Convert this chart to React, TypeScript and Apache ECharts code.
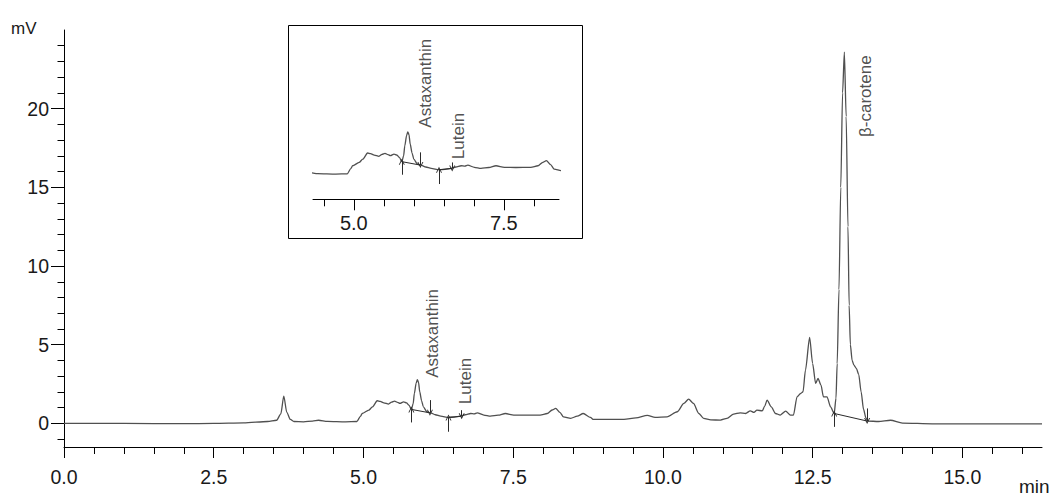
import React, { useEffect, useRef } from 'react';
import * as echarts from 'echarts';

// Retention time (min) and detector signal (mV)
const TIME = [
  0.0, 1.0, 2.0, 2.5, 3.0, 3.4, 3.55, 3.62, 3.67, 3.72, 3.78, 3.84, 4.0, 4.15, 4.25, 4.4, 4.7, 4.89,
  4.95, 4.98, 5.09, 5.15, 5.23, 5.28, 5.34, 5.42, 5.47, 5.52, 5.57, 5.61, 5.67, 5.72, 5.76, 5.8,
  5.83, 5.85, 5.88, 5.9, 5.92, 5.94, 5.97, 6.0, 6.06, 6.12, 6.2, 6.29, 6.42, 6.52, 6.62, 6.7, 6.79,
  6.85, 6.9, 7.01, 7.12, 7.25, 7.37, 7.51, 7.7, 7.95, 8.07, 8.15, 8.21, 8.28, 8.34, 8.46, 8.57, 8.67,
  8.79, 8.84, 9.1, 9.35, 9.55, 9.74, 9.87, 10.07, 10.24, 10.35, 10.43, 10.51, 10.6, 10.68, 10.8,
  10.96, 11.07, 11.18, 11.29, 11.38, 11.46, 11.52, 11.57, 11.66, 11.7, 11.74, 11.81, 11.88, 11.96,
  12.05, 12.13, 12.18, 12.24, 12.3, 12.34, 12.38, 12.45, 12.5, 12.55, 12.59, 12.64, 12.68, 12.74,
  12.8, 12.86, 12.89, 12.91, 12.94, 12.97, 13.0, 13.03, 13.06, 13.09, 13.11, 13.13, 13.16, 13.19,
  13.23, 13.27, 13.31, 13.35, 13.39, 13.42, 13.6, 13.8, 14.0, 14.5, 15.0, 16.33,
];
const SIGNAL = [
  0.0, 0.0, -0.02, 0.0, 0.03, 0.12, 0.2, 0.6, 1.73, 0.7, 0.25, 0.12, 0.1, 0.15, 0.2, 0.13, 0.1, 0.12,
  0.45, 0.63, 0.84, 1.05, 1.44, 1.4, 1.31, 1.23, 1.35, 1.42, 1.33, 1.27, 1.37, 1.3, 1.16, 0.89,
  1.25, 1.9, 2.55, 2.78, 2.6, 2.01, 1.45, 1.05, 0.74, 0.67, 0.55, 0.46, 0.38, 0.4, 0.46, 0.55, 0.63,
  0.6, 0.67, 0.53, 0.46, 0.52, 0.63, 0.53, 0.52, 0.53, 0.63, 0.85, 0.95, 0.7, 0.42, 0.32, 0.46, 0.63,
  0.38, 0.25, 0.25, 0.25, 0.35, 0.51, 0.38, 0.42, 0.74, 1.27, 1.54, 1.27, 0.63, 0.32, 0.22,
  0.21, 0.32, 0.59, 0.67, 0.63, 0.8, 0.7, 0.84, 0.8, 1.1, 1.48, 1.05, 0.63, 0.53,
  0.78, 0.53, 0.53, 1.69, 1.9, 2.01, 3.38, 5.46, 3.81, 2.54, 2.86, 2.43, 1.69, 1.69,
  1.05, 0.63, 1.6, 3.8, 8.5, 15.0, 21.0, 23.6, 19.5, 12.5, 7.5, 5.0, 4.0, 3.7,
  3.5, 3.1, 2.0, 0.9, 0.35, 0.15, 0.12, 0.2, 0.02, -0.03, -0.03, -0.03,
];

// Axis ticks
const X_MAJOR = [0, 2.5, 5, 7.5, 10, 12.5, 15];
const X_MINOR = [0.5, 1, 1.5, 2, 3, 3.5, 4, 4.5, 5.5, 6, 6.5, 7, 8, 8.5, 9, 9.5, 10.5, 11, 11.5, 12, 13, 13.5, 14, 14.5, 15.5, 16];
const Y_MAJOR = [0, 5, 10, 15, 20];
const Y_MINOR = [-1, 1, 2, 3, 4, 6, 7, 8, 9, 11, 12, 13, 14, 16, 17, 18, 19, 21, 22, 23, 24];
const INSET_X_MAJOR = [5, 7.5];
const INSET_X_MINOR = [4.5, 5.5, 6, 6.5, 7, 8];

// Integrated peaks: names, start / end points and marker tails
const PEAK_NAMES = ['Astaxanthin', 'Lutein', 'β-carotene'];
const PEAK_START_X = [5.8, 6.42, 12.86];
const PEAK_START_Y = [0.89, 0.38, 0.63];
const PEAK_END_X = [6.11, 6.64, 13.41];
const PEAK_END_Y = [0.67, 0.46, 0.15];
const START_TAIL_Y = [0.06, -0.53, -0.22];
const END_TAIL_Y = [1.48, 0.84, 0.95];
const LABEL_X = [6.15, 6.7, 13.38];
const LABEL_Y = [2.9, 1.22, 18.2];
const INSET_LABEL_X = [6.2, 6.75];
const INSET_LABEL_Y = [3.05, 1.05];

const FONT = '"Liberation Sans", Arial, sans-serif';
const ARROW = 'path://M0,10 L5,0 L10,10 L8.4,10 L5,3.2 L1.6,10 Z';

function markerLines(indices: number[]) {
  const data: any[] = [];
  indices.forEach((i) => {
    data.push([
      { coord: [PEAK_START_X[i], PEAK_START_Y[i]], symbol: 'none' },
      { coord: [PEAK_END_X[i], PEAK_END_Y[i]], symbol: 'none' },
    ]);
    data.push([
      { coord: [PEAK_START_X[i], START_TAIL_Y[i]], symbol: 'none' },
      { coord: [PEAK_START_X[i], PEAK_START_Y[i]], symbol: ARROW, symbolSize: [6, 6] },
    ]);
    data.push([
      { coord: [PEAK_END_X[i], END_TAIL_Y[i]], symbol: 'none' },
      { coord: [PEAK_END_X[i], PEAK_END_Y[i]], symbol: ARROW, symbolSize: [6, 6] },
    ]);
  });
  return data;
}

function xAxisPair(gridIndex: number, min: number, max: number, major: number[], minor: number[], fontSize: number, margin: number) {
  return [
    {
      type: 'value', gridIndex, min, max, position: 'bottom',
      axisLine: { show: true, onZero: false, lineStyle: { color: '#000', width: 1 } },
      axisTick: { show: true, length: 11, customValues: major, lineStyle: { color: '#000', width: 1 } },
      axisLabel: {
        show: true, customValues: major, margin, fontSize, color: '#1a1a1a', fontFamily: FONT,
        formatter: (v: number) => v.toFixed(1),
      },
      splitLine: { show: false },
    },
    {
      type: 'value', gridIndex, min, max, position: 'bottom',
      axisLine: { show: false, onZero: false },
      axisTick: { show: true, length: 7, customValues: minor, lineStyle: { color: '#000', width: 1 } },
      axisLabel: { show: false },
      splitLine: { show: false },
    },
  ];
}

export default function App() {
  const ref = useRef<HTMLDivElement>(null);
  useEffect(() => {
    if (!ref.current) return;
    const chart = echarts.init(ref.current, undefined, { renderer: 'svg' });
    const trace = TIME.map((t, i) => [t, SIGNAL[i]]);
    const lineStyle = { color: '#505050', width: 1.3 };
    const markLineStyle = { color: '#2a2a2a', width: 1, type: 'solid' as const };
    const labelCfg = (fontSize: number) => ({
      show: true, position: 'inside' as const, rotate: 90, align: 'left' as const,
      verticalAlign: 'middle' as const, formatter: '{b}', fontSize, color: '#222', fontFamily: FONT,
    });

    chart.setOption({
      animation: false,
      grid: [
        { left: 64, top: 30, width: 978, height: 417 },
        { left: 313, top: 33.9, width: 246, height: 165.4 },
      ],
      xAxis: [
        ...xAxisPair(0, 0, 16.33, X_MAJOR, X_MINOR, 19.5, 20),
        ...xAxisPair(1, 4.32, 8.42, INSET_X_MAJOR, INSET_X_MINOR, 20, 14),
      ],
      yAxis: [
        {
          type: 'value', gridIndex: 0, min: -1.5, max: 25, position: 'left',
          axisLine: { show: true, onZero: false, lineStyle: { color: '#000', width: 1 } },
          axisTick: { show: true, length: 13, customValues: Y_MAJOR, lineStyle: { color: '#000' } },
          axisLabel: { show: true, customValues: Y_MAJOR, margin: 15, fontSize: 19.5, color: '#1a1a1a', fontFamily: FONT },
          splitLine: { show: false },
        },
        {
          type: 'value', gridIndex: 0, min: -1.5, max: 25, position: 'left',
          axisLine: { show: false, onZero: false },
          axisTick: { show: true, length: 6.5, customValues: Y_MINOR, lineStyle: { color: '#000' } },
          axisLabel: { show: false },
          splitLine: { show: false },
        },
        {
          type: 'value', gridIndex: 1, min: -1.5, max: 9, show: false,
          splitLine: { show: false },
        },
      ],
      graphic: [
        {
          type: 'rect', shape: { x: 288.5, y: 25.5, width: 294, height: 213 },
          style: { fill: 'none', stroke: '#000', lineWidth: 1 }, silent: true,
        },
        {
          type: 'text', left: 11, top: 20,
          style: { text: 'mV', fontSize: 17, fill: '#1a1a1a', fontFamily: FONT },
        },
        {
          type: 'text', left: 1019, top: 477,
          style: { text: 'min', fontSize: 19, fill: '#1a1a1a', fontFamily: FONT },
        },
      ],
      series: [
        {
          type: 'line', xAxisIndex: 0, yAxisIndex: 0, data: trace, showSymbol: false,
          smooth: 0.25, smoothMonotone: 'x', lineStyle, silent: true,
          markLine: { silent: true, symbol: 'none', label: { show: false }, lineStyle: markLineStyle, data: markerLines([0, 1, 2]) },
        },
        {
          type: 'scatter', xAxisIndex: 0, yAxisIndex: 0, symbolSize: 0, silent: true,
          data: PEAK_NAMES.map((n, i) => ({ name: n, value: [LABEL_X[i], LABEL_Y[i]] })),
          label: labelCfg(17),
        },
        {
          type: 'line', xAxisIndex: 2, yAxisIndex: 2, data: trace, showSymbol: false,
          smooth: 0.25, smoothMonotone: 'x', lineStyle, silent: true, clip: true,
          markLine: { silent: true, symbol: 'none', label: { show: false }, lineStyle: markLineStyle, data: markerLines([0, 1]) },
        },
        {
          type: 'scatter', xAxisIndex: 2, yAxisIndex: 2, symbolSize: 0, silent: true,
          data: PEAK_NAMES.slice(0, 2).map((n, i) => ({ name: n, value: [INSET_LABEL_X[i], INSET_LABEL_Y[i]] })),
          label: labelCfg(17),
        },
      ],
    });
    return () => chart.dispose();
  }, []);
  return (
    <div
      ref={ref}
      style={{ position: 'absolute', left: 0, top: 0, width: 1055, height: 499, background: '#fff' }}
    />
  );
}
